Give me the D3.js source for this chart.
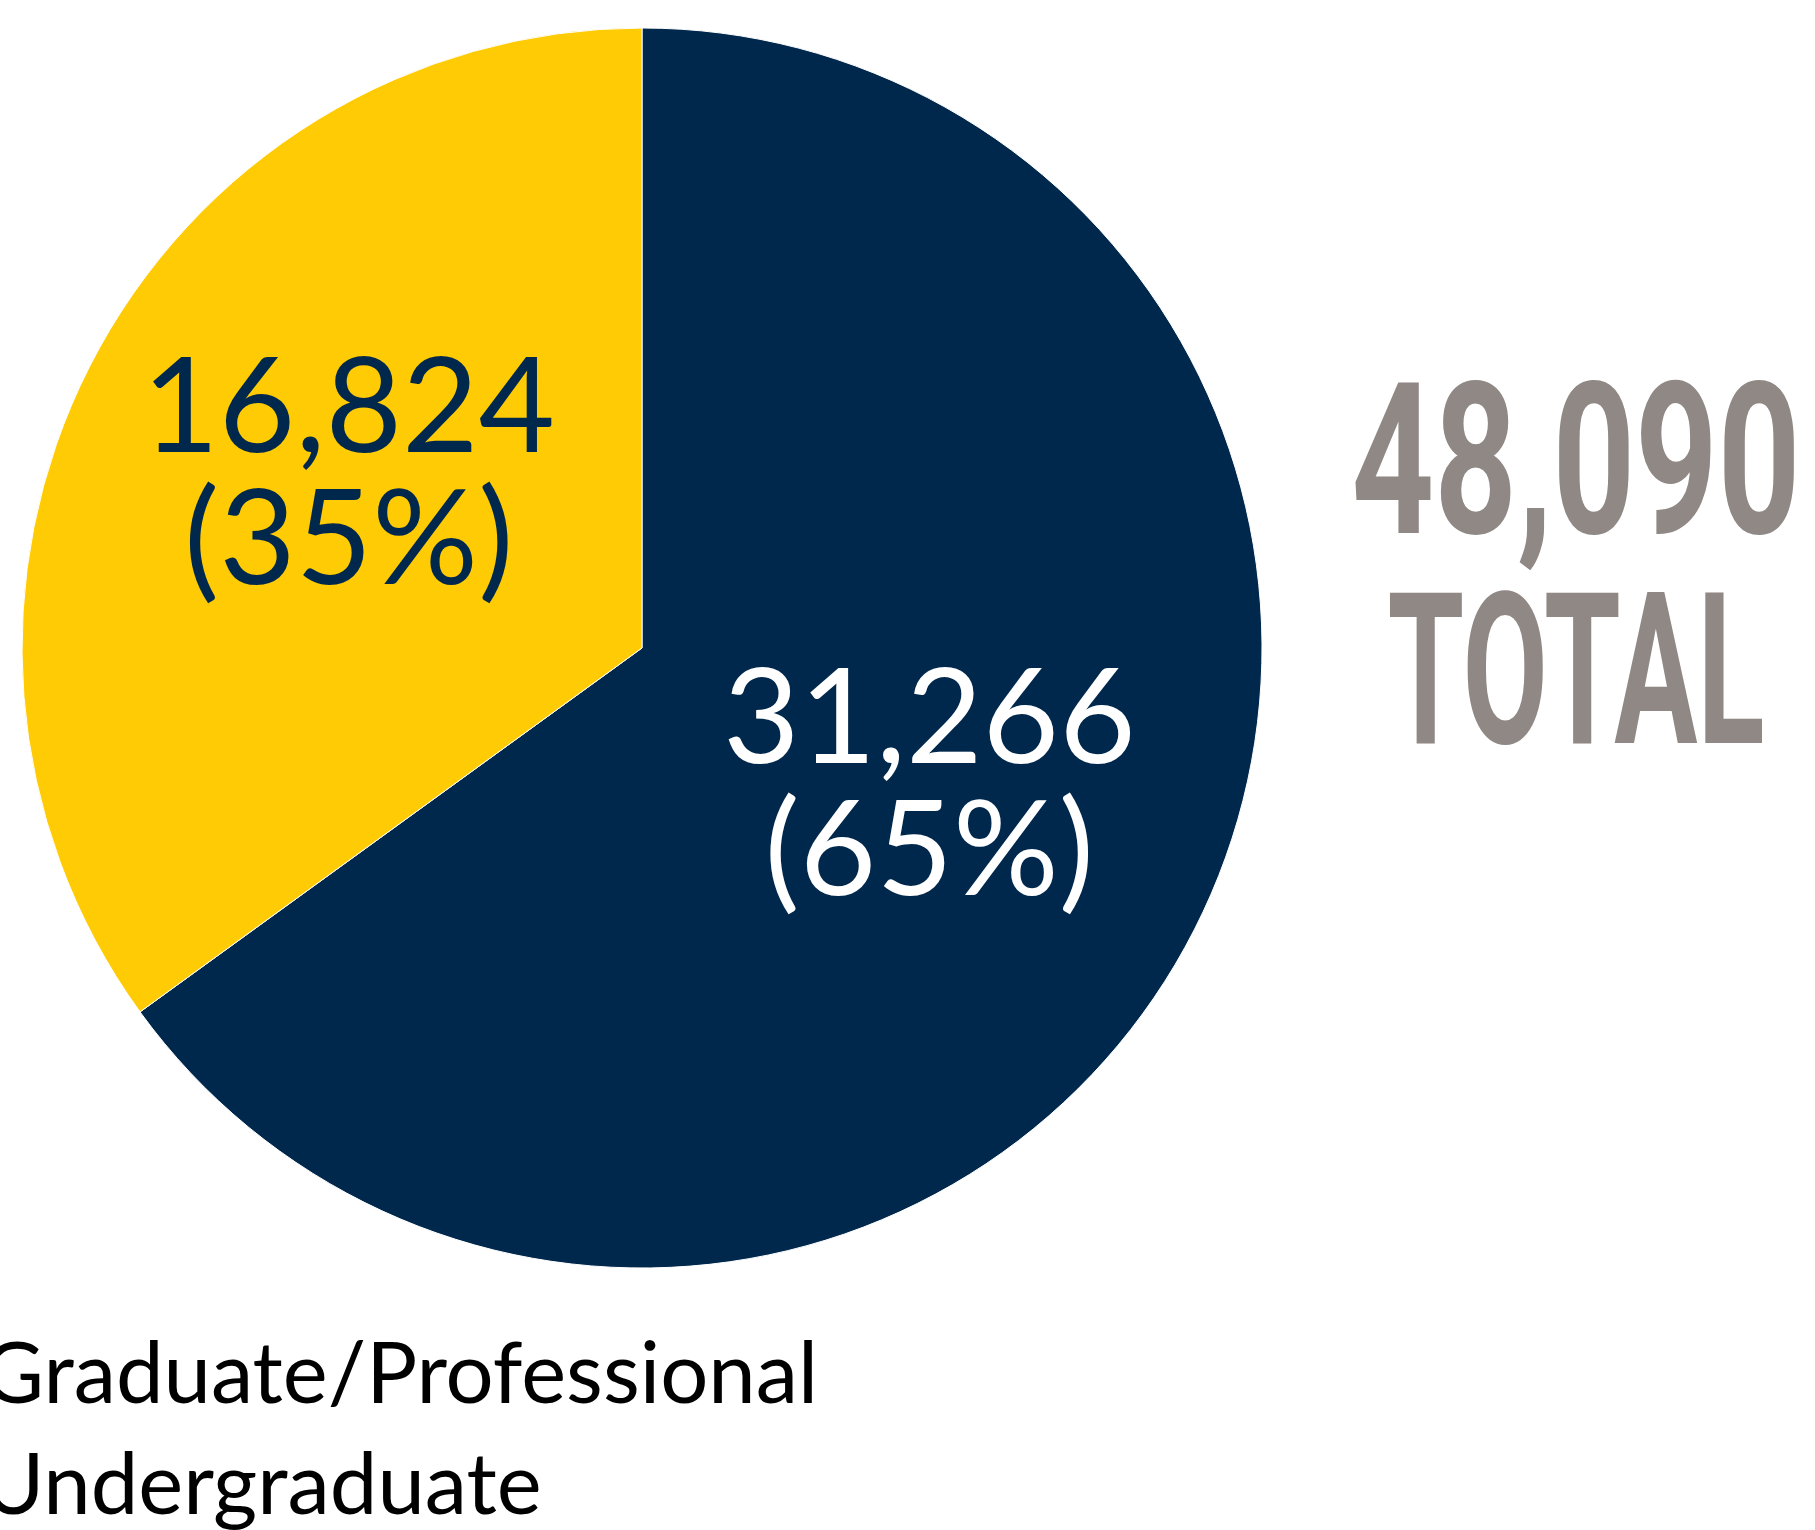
<!DOCTYPE html>
<html>
<head>
<meta charset="utf-8">
<script src="https://cdn.jsdelivr.net/npm/d3@7"></script>
<style>
  body { margin: 0; background: #fff; }
  svg { display: block; }
</style>
</head>
<body>
<svg id="chart" width="1815" height="1530"></svg>
<script>
// enrollment split
const categories = ["Undergraduate", "Graduate/Professional"];
const values = [31266, 16824];
const colors = ["#00274C", "#FFCB05"];
const labelColors = ["#ffffff", "#00274C"];
const legendOrder = ["Graduate/Professional", "Undergraduate"];
const totalLabel = ["48,090", "TOTAL"];

const width = 1815, height = 1530;
const cx = 642, cy = 648, radius = 620;

const svg = d3.select("#chart");
const total = d3.sum(values);

const pie = d3.pie().sort(null).value(d => d.value);
const data = pie(categories.map((c, i) => ({ name: c, value: values[i], i: i })));

const arc = d3.arc().innerRadius(0).outerRadius(radius);
const labelR = radius * 0.53;
const labelTurn = 2 * Math.PI / 180; // nudge labels a little clockwise
const labelNudge = [[0, 0], [-6, 7]];

const g = svg.append("g").attr("transform", "translate(" + cx + "," + cy + ")");

g.selectAll("path.slice")
  .data(data)
  .enter().append("path")
  .attr("class", "slice")
  .attr("d", arc)
  .attr("fill", d => colors[d.data.i])
  .attr("stroke", "#ffffff")
  .attr("stroke-width", 1);

const fmt = d3.format(",");
const lbl = g.selectAll("g.lbl")
  .data(data)
  .enter().append("g")
  .attr("class", "lbl")
  .attr("transform", d => {
    const a = (d.startAngle + d.endAngle) / 2 + labelTurn;
    const n = labelNudge[d.data.i];
    return "translate(" + (Math.sin(a) * labelR + n[0]) + "," + (-Math.cos(a) * labelR + n[1]) + ")";
  });

lbl.append("text")
  .attr("text-anchor", "middle")
  .attr("y", -44)
  .style("font-family", "Lato")
  .style("font-size", "132px")
  .attr("fill", d => labelColors[d.data.i])
  .text(d => fmt(d.data.value));

lbl.append("text")
  .attr("text-anchor", "middle")
  .attr("y", 88)
  .style("font-family", "Lato")
  .style("font-size", "132px")
  .attr("fill", d => labelColors[d.data.i])
  .text(d => "(" + Math.round(d.data.value / total * 100) + "%)");

// big total on the right
const totalG = svg.append("g").attr("transform", "translate(1576,0)");
totalG.append("text")
  .attr("text-anchor", "middle")
  .attr("y", 533)
  .attr("textLength", 449)
  .attr("lengthAdjust", "spacingAndGlyphs")
  .style("font-family", "Roboto")
  .style("font-weight", 700)
  .style("font-size", "211px")
  .attr("fill", "#8f8885")
  .text(totalLabel[0]);
totalG.append("text")
  .attr("text-anchor", "middle")
  .attr("y", 743)
  .attr("textLength", 377)
  .attr("lengthAdjust", "spacingAndGlyphs")
  .style("font-family", "Roboto")
  .style("font-weight", 700)
  .style("font-size", "211px")
  .attr("fill", "#8f8885")
  .text(totalLabel[1]);

// legend (swatches sit off the left edge)
const legend = svg.append("g").attr("transform", "translate(-18,0)");
legend.selectAll("text")
  .data(legendOrder)
  .enter().append("text")
  .attr("x", 0)
  .attr("y", (d, i) => 1403 + i * 111)
  .style("font-family", "Lato")
  .style("font-size", "85px")
  .attr("fill", "#000")
  .text(d => d);
</script>
</body>
</html>
